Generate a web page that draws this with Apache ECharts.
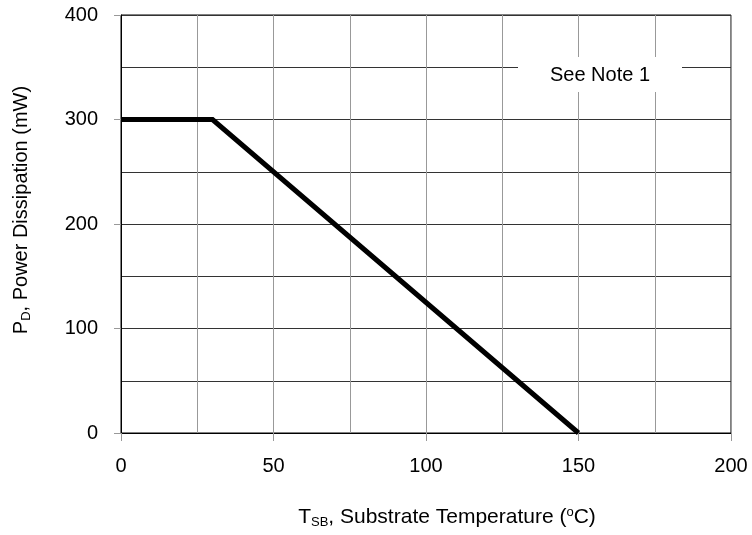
<!DOCTYPE html>
<html>
<head>
<meta charset="utf-8">
<script src="https://cdn.jsdelivr.net/npm/echarts@6/dist/echarts.min.js"></script>
<style>
  html, body { margin: 0; padding: 0; background: #fff; }
  #chart { width: 752px; height: 535px; }
</style>
</head>
<body>
<div id="chart"></div>
<script>
  // derating curve: substrate temperature (C) vs max power dissipation (mW)
  var tempC = [0, 30, 150];
  var powerMW = [300, 300, 0];
  var noteText = 'See Note 1';

  var font = 'Arial, "Liberation Sans", sans-serif';
  var chart = echarts.init(document.getElementById('chart'));

  chart.setOption({
    animation: false,
    grid: {
      left: 121, right: 21, top: 15, bottom: 102,
      show: true, borderColor: '#000', borderWidth: 1
    },
    xAxis: {
      type: 'value',
      min: 0, max: 200, interval: 50,
      axisLine: { lineStyle: { color: '#000', width: 1 } },
      axisTick: { show: true, length: 8, lineStyle: { color: '#999' } },
      minorTick: { show: false, splitNumber: 2 },
      axisLabel: { color: '#000', fontSize: 20, fontFamily: font, margin: 23 },
      splitLine: { show: true, lineStyle: { color: '#999', width: 1 } },
      minorSplitLine: { show: true, lineStyle: { color: '#999', width: 1 } },
      name: '{t|T}{s|SB}{t|, Substrate Temperature (}{u|o}{t|C)}',
      nameLocation: 'middle',
      nameGap: 73,
      nameTextStyle: {
        padding: [0, 0, 0, 42],
        rich: {
          t: { fontSize: 21, fontFamily: font, color: '#000' },
          s: { fontSize: 13, fontFamily: font, color: '#000', verticalAlign: 'bottom', padding: [10, 0, 0, 0] },
          u: { fontSize: 13, fontFamily: font, color: '#000', verticalAlign: 'top', padding: [0, 0, 8, 0] }
        }
      }
    },
    yAxis: {
      type: 'value',
      min: 0, max: 400, interval: 100,
      axisLine: { show: true, lineStyle: { color: '#000', width: 1 } },
      axisTick: { show: true, length: 7, lineStyle: { color: '#999' } },
      minorTick: { show: false, splitNumber: 2 },
      axisLabel: { color: '#000', fontSize: 20, fontFamily: font, margin: 23 },
      splitLine: { show: true, lineStyle: { color: '#333', width: 1 } },
      minorSplitLine: { show: true, lineStyle: { color: '#333', width: 1 } },
      name: '{t|P}{s|D}{t|, Power Dissipation (mW)}',
      nameLocation: 'middle',
      nameRotate: 90,
      nameGap: 88,
      nameTextStyle: {
        padding: [0, 0, 0, 28],
        rich: {
          t: { fontSize: 20, fontFamily: font, color: '#000' },
          s: { fontSize: 13, fontFamily: font, color: '#000', verticalAlign: 'bottom', padding: [10, 0, 0, 0] }
        }
      }
    },
    series: [{
      type: 'line',
      data: tempC.map(function (t, i) { return [t, powerMW[i]]; }),
      symbol: 'none',
      lineStyle: { color: '#000', width: 5, join: 'miter' },
      z: 5
    }],
    graphic: [
      { type: 'rect', z: 100, shape: { x: 518, y: 57, width: 164, height: 35 }, style: { fill: '#fff' } },
      { type: 'text', z: 101, x: 600, y: 75, style: { text: noteText, fontSize: 20, fontFamily: font, fill: '#000', align: 'center', verticalAlign: 'middle' } }
    ]
  });
</script>
</body>
</html>
